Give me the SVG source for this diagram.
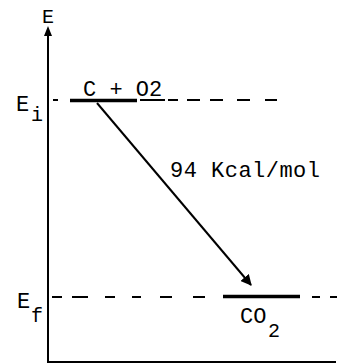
<svg xmlns="http://www.w3.org/2000/svg" width="339" height="364" viewBox="0 0 339 364">
<style>
text{font-family:"Liberation Mono","Courier New",monospace;fill:#000}
.ax{stroke:#000;stroke-width:2;fill:none}
.dash{stroke:#000;stroke-width:2;fill:none}
.lvl{stroke:#000;stroke-width:3.5;fill:none}
.conn{stroke:#000;stroke-width:2;fill:none}
</style>
<defs>
<marker id="ah" viewBox="0 0 10 10" refX="9" refY="5" markerWidth="5.5" markerHeight="5.5" orient="auto" markerUnits="strokeWidth">
<path d="M0,0 L10,5 L0,10 z" fill="#000"/>
</marker>
</defs>
<rect width="339" height="364" fill="#fff"/>
<g id="axes">
<path class="ax" d="M48,35 V362 H336"/>
<path d="M48,26 L44,36 L52,36 z" fill="#000"/>
<text x="42" y="23" font-size="20">E</text>
</g>
<g id="level-initial">
<path class="dash" d="M53,100h5 M140,100h25 M168,100h10 M187,100h13 M210,100h13 M237,100h13 M265,100h12"/>
<path class="lvl" d="M70,100.5 H137"/>
<text x="16" y="111" font-size="22">E</text>
<text x="31" y="121" font-size="20">i</text>
<text x="83" y="96" font-size="22">C + O2</text>
</g>
<g id="level-final">
<path class="dash" d="M52,297h10 M72,297h16 M105,297h10 M132,297h9 M160,297h12 M193,297h12 M312,297h8 M330,297h7"/>
<path class="lvl" d="M223,296.5 H300"/>
<text x="17" y="308" font-size="22">E</text>
<text x="31" y="322" font-size="20">f</text>
<text x="240" y="323" font-size="22">CO</text>
<text x="268" y="337" font-size="20">2</text>
</g>
<g id="connectors">
<path class="conn" d="M97,103 L251,285" marker-end="url(#ah)"/>
<text x="170" y="177" font-size="22" textLength="150" lengthAdjust="spacing">94 Kcal/mol</text>
</g>
</svg>
